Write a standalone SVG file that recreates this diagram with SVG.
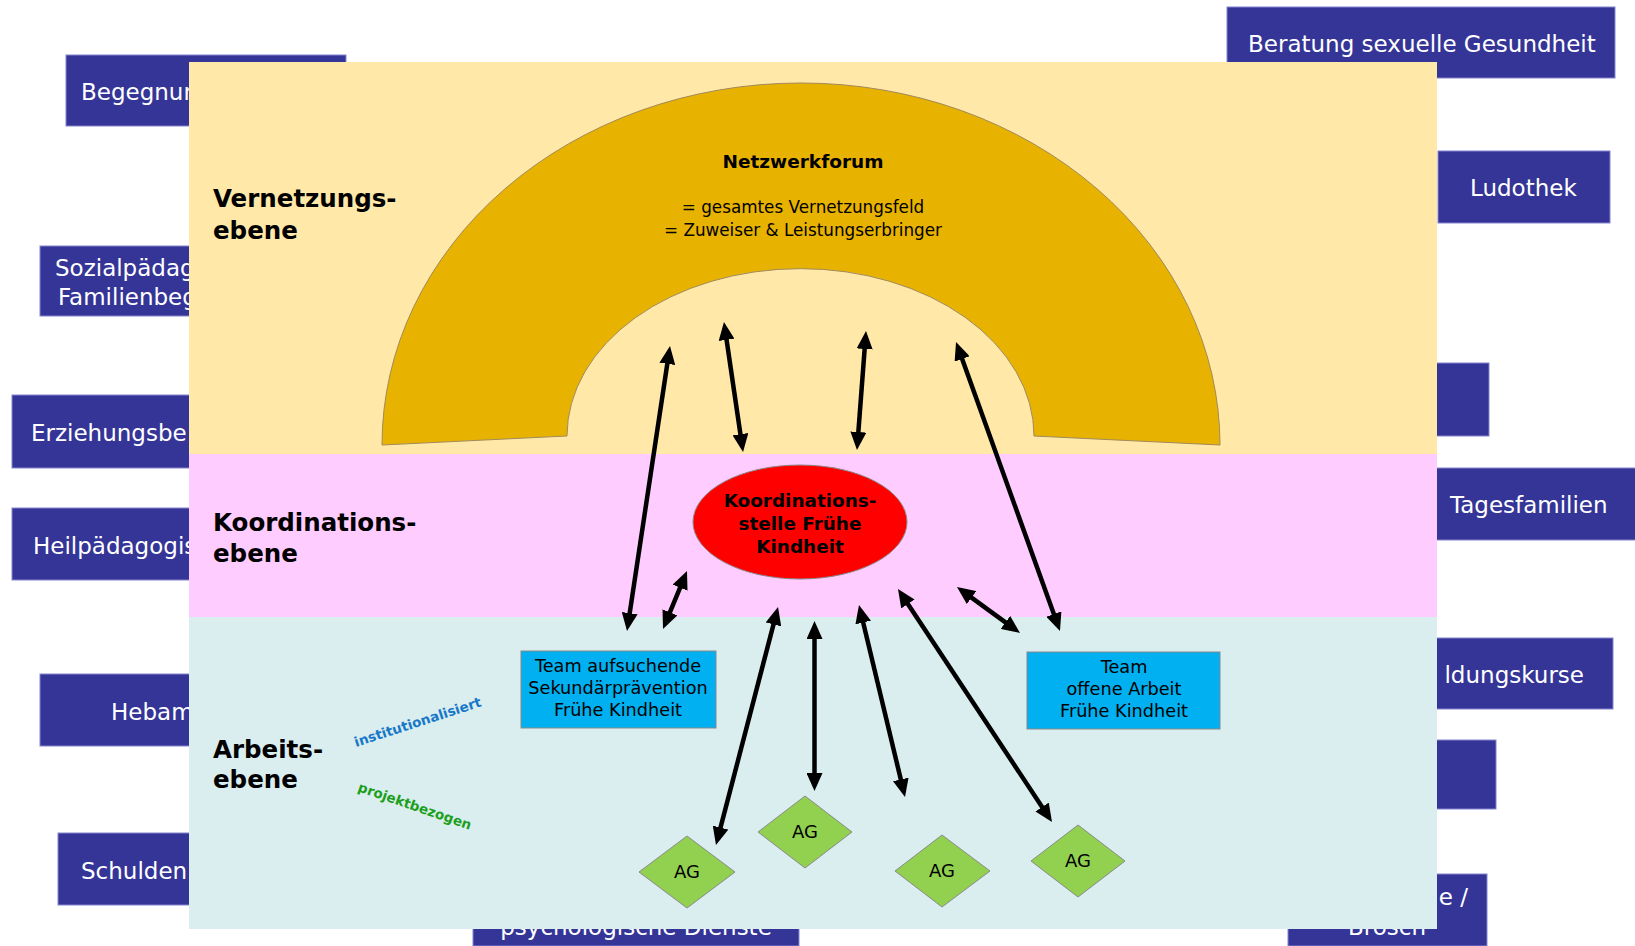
<svg xmlns="http://www.w3.org/2000/svg" width="1635" height="946" viewBox="0 0 1635 946">
<defs>
<style>
.ob{fill:#353597;stroke:#8585cf;stroke-width:1}
.obt{font-family:"DejaVu Sans",sans-serif;font-size:23px;fill:#ffffff}
.lvl{font-family:"DejaVu Sans",sans-serif;font-size:24.5px;font-weight:bold;fill:#000}
.team{fill:#00B0F0;stroke:#8a8a8a;stroke-width:1}
.tt{font-family:"DejaVu Sans",sans-serif;font-size:17.7px;fill:#000;text-anchor:middle}
.ag{fill:#92D050;stroke:#8a8a8a;stroke-width:1}
.agt{font-family:"DejaVu Sans",sans-serif;font-size:18px;fill:#000;text-anchor:middle}
.con{stroke:#000;stroke-width:4.5;fill:none;marker-start:url(#ah);marker-end:url(#ah)}
</style>
<marker id="ah" markerUnits="userSpaceOnUse" markerWidth="18" markerHeight="16" refX="6" refY="8" orient="auto-start-reverse">
<path d="M0,0 L18,8 L0,16 Z" fill="#000"/>
</marker>
</defs>
<rect width="1635" height="946" fill="#ffffff"/>
<g id="outer-nodes">
<g id="n-begegnung"><rect class="ob" x="66" y="55" width="280" height="71"/><text class="obt" x="81" y="100">Begegnun</text></g>
<g id="n-sozial"><rect class="ob" x="40" y="246" width="260" height="70"/><text class="obt" x="55" y="276">Sozialpädag</text><text class="obt" x="58" y="305">Familienbeg</text></g>
<g id="n-erziehung"><rect class="ob" x="12" y="395" width="260" height="73"/><text class="obt" x="31" y="441">Erziehungsbe</text></g>
<g id="n-heil"><rect class="ob" x="12" y="508" width="260" height="72"/><text class="obt" x="33" y="554">Heilpädagogis</text></g>
<g id="n-hebam"><rect class="ob" x="40" y="674" width="260" height="72"/><text class="obt" x="111" y="720">Hebam</text></g>
<g id="n-schulden"><rect class="ob" x="58" y="833" width="260" height="72"/><text class="obt" x="81" y="879">Schulden</text></g>
<g id="n-psych"><rect class="ob" x="473" y="880" width="326" height="66"/><text class="obt" x="636" y="935" text-anchor="middle">psychologische Dienste</text></g>
<g id="n-beratung"><rect class="ob" x="1227" y="7" width="388" height="71"/><text class="obt" x="1248" y="52">Beratung sexuelle Gesundheit</text></g>
<g id="n-ludothek"><rect class="ob" x="1438" y="151" width="172" height="72"/><text class="obt" x="1470" y="196">Ludothek</text></g>
<g id="n-box3"><rect class="ob" x="1300" y="363" width="189" height="73"/></g>
<g id="n-tages"><rect class="ob" x="1300" y="468" width="340" height="72"/><text class="obt" x="1450" y="513">Tagesfamilien</text></g>
<g id="n-bildung"><rect class="ob" x="1300" y="638" width="313" height="71"/><text class="obt" x="1584" y="683" text-anchor="end">ldungskurse</text></g>
<g id="n-box6"><rect class="ob" x="1300" y="740" width="196" height="69"/></g>
<g id="n-box7"><rect class="ob" x="1288" y="874" width="199" height="72"/><text class="obt" x="1468" y="905" text-anchor="end">e /</text><text class="obt" x="1387" y="935" text-anchor="middle">Brosch</text></g>
</g>
<g id="panel">
<rect x="189" y="62" width="1248" height="392" fill="#FFE8A8"/>
<rect x="189" y="454" width="1248" height="163" fill="#FFCCFF"/>
<rect x="189" y="617" width="1248" height="312" fill="#DAEDEF"/>
</g>
<g id="level-labels">
<text class="lvl" x="213" y="207">Vernetzungs-</text><text class="lvl" x="213" y="239">ebene</text>
<text class="lvl" x="213" y="531">Koordinations-</text><text class="lvl" x="213" y="562">ebene</text>
<text class="lvl" x="213" y="758">Arbeits-</text><text class="lvl" x="213" y="788">ebene</text>
</g>
<g id="n-netzwerkforum">
<path d="M382,445 A419,362 0 0 1 1220,445 L1034,436 A233,167 0 0 0 567,436 Z" fill="#E8B200" stroke="#a08a5a" stroke-width="1"/>
<text x="803" y="168" text-anchor="middle" font-family="DejaVu Sans, sans-serif" font-size="18.5" font-weight="bold">Netzwerkforum</text>
<text x="803" y="213" text-anchor="middle" font-family="DejaVu Sans, sans-serif" font-size="16.8">= gesamtes Vernetzungsfeld</text>
<text x="803" y="236" text-anchor="middle" font-family="DejaVu Sans, sans-serif" font-size="16.8">= Zuweiser &amp; Leistungserbringer</text>
</g>
<g id="n-koordination">
<ellipse cx="800" cy="522" rx="107" ry="57" fill="#FF0000" stroke="#8a8a8a" stroke-width="1"/>
<text x="800" y="507" text-anchor="middle" font-family="DejaVu Sans, sans-serif" font-size="18.4" font-weight="bold">Koordinations-</text>
<text x="800" y="530" text-anchor="middle" font-family="DejaVu Sans, sans-serif" font-size="18.4" font-weight="bold">stelle Frühe</text>
<text x="800" y="553" text-anchor="middle" font-family="DejaVu Sans, sans-serif" font-size="18.4" font-weight="bold">Kindheit</text>
</g>
<g id="n-team1"><rect class="team" x="521" y="651" width="195" height="77"/>
<text class="tt" x="618" y="672">Team aufsuchende</text><text class="tt" x="618" y="694">Sekundärprävention</text><text class="tt" x="618" y="716">Frühe Kindheit</text></g>
<g id="n-team2"><rect class="team" x="1027" y="652" width="193" height="77"/>
<text class="tt" x="1124" y="673">Team</text><text class="tt" x="1124" y="695">offene Arbeit</text><text class="tt" x="1124" y="717">Frühe Kindheit</text></g>
<g id="n-ag1"><polygon class="ag" points="639,872 687,836 735,872 687,908"/><text class="agt" x="687" y="878">AG</text></g>
<g id="n-ag2"><polygon class="ag" points="758,832 805,796 852,832 805,868"/><text class="agt" x="805" y="838">AG</text></g>
<g id="n-ag3"><polygon class="ag" points="895,871 942,835 990,871 942,907"/><text class="agt" x="942" y="877">AG</text></g>
<g id="n-ag4"><polygon class="ag" points="1031,861 1078,825 1125,861 1078,897"/><text class="agt" x="1078" y="867">AG</text></g>
<g id="annotations">
<text x="356" y="747" transform="rotate(-18 356 747)" font-family="DejaVu Sans, sans-serif" font-size="13.5" font-weight="bold" fill="#1878C8">institutionalisiert</text>
<text x="357" y="791" transform="rotate(19 357 791)" font-family="DejaVu Sans, sans-serif" font-size="13.5" font-weight="bold" fill="#1AA01A">projektbezogen</text>
</g>
<g id="connectors">
<line class="con" x1="668.2" y1="357.9" x2="628.8" y2="619.1"/>
<line class="con" x1="725.7" y1="333.9" x2="741.3" y2="440.1"/>
<line class="con" x1="865.1" y1="343.0" x2="857.9" y2="438.0"/>
<line class="con" x1="960.1" y1="353.3" x2="1055.9" y2="619.7"/>
<line class="con" x1="682.4" y1="582.1" x2="667.6" y2="617.9"/>
<line class="con" x1="775.0" y1="618.6" x2="719.0" y2="833.4"/>
<line class="con" x1="814.5" y1="633" x2="814.5" y2="779"/>
<line class="con" x1="861.8" y1="616.7" x2="902.2" y2="785.3"/>
<line class="con" x1="904.6" y1="599.0" x2="1045.4" y2="812.0"/>
<line class="con" x1="966.7" y1="594.1" x2="1010.3" y2="625.9"/>
</g>
</svg>
